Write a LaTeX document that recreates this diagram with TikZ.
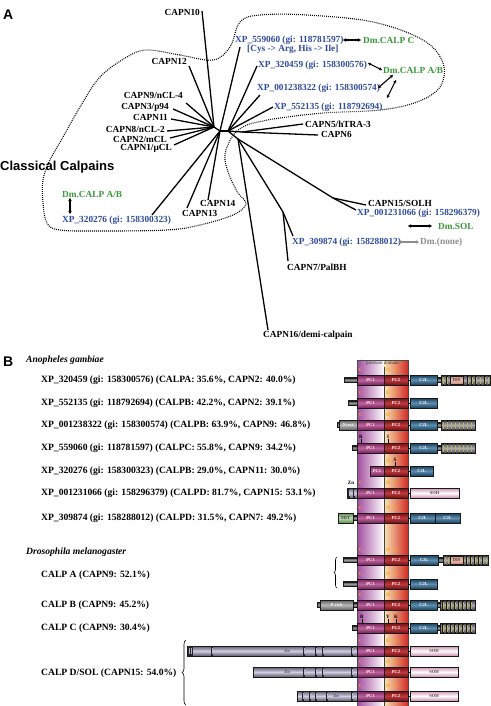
\documentclass[tikz,border=0pt]{standalone}
\usepackage{fontspec}
\setmainfont{Liberation Serif}
\newfontfamily\hsans{Liberation Sans}
\usetikzlibrary{arrows.meta,decorations.pathreplacing}
\definecolor{xblue}{HTML}{2F4B9C}
\definecolor{xgreen}{HTML}{3C9A3C}
\definecolor{xgray}{HTML}{8E8E8E}
\definecolor{pcone}{HTML}{A8307E}
\definecolor{pctwo}{HTML}{B0171C}
\definecolor{ctwol}{HTML}{2A6A98}
\definecolor{sohc}{HTML}{EEA8CA}
\definecolor{lavc}{HTML}{8C86AE}
\definecolor{greyc}{HTML}{8A8A8A}
\definecolor{mitc}{HTML}{8EC47A}
\definecolor{disc}{HTML}{E8A48C}
\definecolor{stripec}{HTML}{B8B660}
\definecolor{tailbody}{HTML}{6A6878}
\definecolor{colpurple}{HTML}{A24C9E}
\definecolor{colred}{HTML}{D32B22}
\definecolor{colyel}{HTML}{F7E3B4}
\definecolor{triadc}{HTML}{F0B020}
% x1,x2,y,half,edge colour,middle colour
\newcommand\dtube[6]{\path[draw=black!90,line width=0.5pt,top color=#5,bottom color=#5,middle color=#6] (#1,#3-#4) rectangle (#2,#3+#4);}
\newcommand\pcs[2]{\dtube{#2}{384}{#1}{5}{pcone!70!black}{pcone!75!white}\node[dlbl] at ({(#2+384)/2},#1) {PC1};\dtube{384}{408}{#1}{5}{pctwo!65!black}{pctwo!85!white}\node[dlbl] at (396,#1) {PC2};\draw[line width=0.8pt] (408,#1)--(410,#1);}
\newcommand\ctl[3]{\dtube{#1}{#2}{#3}{5}{ctwol!60!black}{ctwol!75!white}\node[dlbl] at ({(#1+#2)/2},#3) {C2L};}
\newcommand\sohd[3]{\dtube{#1}{#2}{#3}{5}{sohc!85!black}{white}\node[dlbl,text=black!70] at ({(#1+#2)/2},#3) {SOH};}
\newcommand\dtail[4]{\dtube{#1}{#2}{#3}{5}{tailbody!60!black}{tailbody!55!white}\foreach \s in {#4}{\fill[black!90] (\s-0.9,#3-4.5) rectangle (\s+0.9,#3+4.5);\fill[stripec] (\s-0.45,#3-3.5) rectangle (\s+0.45,#3+3.5);}}
\newcommand\lnk[3]{\dtube{#1}{#2}{#3}{2.2}{black!75}{black!40}}
\newcommand\disb[2]{\dtube{#1}{#1+13}{#2}{4}{disc!85!black}{disc!70!white}\node[dlbl,text=black!75] at (#1+6.5,#2) {DIS};}
\newcommand\triad[1]{\node[tri] at (361,#1-10.5) {C};\node[tri] at (388,#1-10.5) {H};\node[tri] at (395,#1-10.5) {N};}
\newcommand\zband[2]{\fill[black!85] (#1-1.3,#2-5) rectangle (#1+1.3,#2+5);\fill[lavc!60!white] (#1-0.4,#2-3) rectangle (#1+0.4,#2+3);}
\newcommand\mut[3]{\node[mutl] at (#1,#2-11.5) {#3};\draw[line width=0.4pt] (#1,#2-9)--(#1,#2-5);}
\begin{document}
\begin{tikzpicture}[x=1pt,y=-1pt,
  lbl/.style={font=\bfseries\fontsize{9.3}{10}\selectfont,inner sep=0pt},
  blbl/.style={lbl,text=xblue},
  glbl/.style={lbl,text=xgreen},
  rowl/.style={font=\bfseries\fontsize{9.6}{10}\selectfont,inner sep=0pt,anchor=west},
  dlbl/.style={font=\bfseries\fontsize{4.5}{5}\selectfont,inner sep=0pt,text=white!80!pink},
  tri/.style={font=\bfseries\fontsize{5}{5}\selectfont,inner sep=0pt,text=triadc},
  mutl/.style={font=\bfseries\fontsize{5}{5}\selectfont,inner sep=0pt,text=black},
  br/.style={line width=1.3pt,black},
  dbl/.style={line width=1.1pt,{Stealth[length=3.2pt,width=3.6pt]}-{Stealth[length=3.2pt,width=3.6pt]}},
  big/.style={font=\hsans\bfseries\fontsize{14}{14}\selectfont,inner sep=0pt,anchor=west}]
\useasboundingbox (0,0) rectangle (490,706);
\fill[white] (0,0) rectangle (490,706);
% ---------------- Panel A ----------------
\node[big] (A) at (3,15) {A};
\draw[line width=1.1pt,dash pattern=on 0.9pt off 1.1pt] plot[smooth cycle,tension=0.6] coordinates {
 (213,60) (180,55) (147,50) (127,57) (100,77) (80,107) (63,137) (50,160) (43,180) (43,203) (47,223) (60,230) (100,231) (167,230) (200,225) (233,215) (246,204) (238,193) (230,177) (225,160) (227,147) (235,133) (247,125) (263,121) (280,118) (323,113) (380,110) (417,102) (440,87) (443,63) (423,40) (373,22) (307,15) (260,15) (240,22) (230,47)};
\node[font=\hsans\bfseries\fontsize{13}{13}\selectfont,inner sep=0pt,anchor=west] (cc) at (0,167) {Classical Calpains};
% tree
\coordinate (L) at (214,127);
\coordinate (K) at (220,131);
\coordinate (R) at (228,131);
\coordinate (C56) at (242,132);
\coordinate (D) at (238,139);
\coordinate (P) at (283,212);
\coordinate (Q) at (333,198);
\coordinate (l10) at (202,11); \coordinate (l12) at (189,66); \coordinate (l9) at (186,103);
\coordinate (l3) at (173,109); \coordinate (l11) at (171,119); \coordinate (l8) at (167,131);
\coordinate (l2) at (170,138); \coordinate (l1) at (174,145);
\coordinate (l559) at (240,47); \coordinate (l459) at (257,66); \coordinate (l322) at (260,95);
\coordinate (l135) at (273,107); \coordinate (l5) at (303,124); \coordinate (l6) at (318,135);
\coordinate (l276) at (152,215); \coordinate (l13) at (187,208); \coordinate (l14) at (208,200);
\coordinate (l15) at (366,205); \coordinate (l066) at (356,210); \coordinate (l874) at (293,236);
\coordinate (l7) at (288,261); \coordinate (l16) at (268,330);
\foreach \a/\b in {L/l10,L/l12,L/l9,L/l3,L/l11,L/l8,L/l2,L/l1,L/K,K/l559,K/R,R/l459,R/l322,R/l135,R/C56,C56/l5,C56/l6,K/l276,K/l13,K/l14,R/D,D/l16,D/P,P/l874,P/l7,D/Q,Q/l15,Q/l066}
  \draw[br] (\a)--(\b);
\node[lbl,anchor=east] (t10) at (200,12) {CAPN10};
\node[lbl,anchor=east] (t12) at (187,61) {CAPN12};
\node[lbl,anchor=east] (t9) at (183,95) {CAPN9/nCL-4};
\node[lbl,anchor=east] (t3) at (169,107) {CAPN3/p94};
\node[lbl,anchor=east] (t11) at (168,117) {CAPN11};
\node[lbl,anchor=east] (t8) at (165,129) {CAPN8/nCL-2};
\node[lbl,anchor=east] (t2) at (167,139) {CAPN2/mCL};
\node[lbl,anchor=east] (t1) at (172,148) {CAPN1/µCL};
\node[blbl,anchor=west] (x559) at (235,40) {XP\_559060 (gi: 118781597)};
\node[glbl,anchor=west] (dmc) at (363,40) {Dm.CALP C};
\node[blbl,anchor=west] (cys) at (247,49) {[Cys -> Arg, His -> Ile]};
\node[blbl,anchor=west] (x459) at (258,65) {XP\_320459 (gi: 158300576)};
\node[glbl,anchor=west] (dmab) at (383,70) {Dm.CALP A/B};
\node[blbl,anchor=west] (x322) at (257,88) {XP\_001238322 (gi: 158300574)};
\node[blbl,anchor=west] (x135) at (274,107) {XP\_552135 (gi: 118792694)};
\node[lbl,anchor=west] (t5) at (305,124) {CAPN5/hTRA-3};
\node[lbl,anchor=west] (t6) at (321,134) {CAPN6};
\node[lbl,anchor=west] (t14) at (200,203) {CAPN14};
\node[lbl,anchor=west] (t13) at (182,213) {CAPN13};
\node[glbl,anchor=west] (dmab2) at (62,194) {Dm.CALP A/B};
\node[blbl,anchor=west] (x276) at (62,220) {XP\_320276 (gi: 158300323)};
\node[lbl,anchor=west] (t15) at (368,203) {CAPN15/SOLH};
\node[blbl,anchor=west] (x066) at (357,213) {XP\_001231066 (gi: 158296379)};
\node[glbl,anchor=west] (dmsol) at (438,226) {Dm.SOL};
\node[blbl,anchor=west] (x874) at (292,242) {XP\_309874 (gi: 158288012)};
\node[lbl,anchor=west,text=xgray] (dmnone) at (420,242) {Dm.(none)};
\node[lbl,anchor=west] (t7) at (287,267) {CAPN7/PalBH};
\node[lbl,anchor=west] (t16) at (263,335) {CAPN16/demi-calpain};
\coordinate (a1) at (343,40); \coordinate (a2) at (361,40);
\coordinate (a3) at (368,63); \coordinate (a4) at (382,70);
\coordinate (a5) at (378,88); \coordinate (a6) at (393,75);
\coordinate (a7) at (396,80); \coordinate (a8) at (387,98);
\coordinate (a9) at (70,198); \coordinate (a10) at (70,214);
\coordinate (a11) at (408,226); \coordinate (a12) at (432,226);
\coordinate (a13) at (398,242); \coordinate (a14) at (419,242);
\draw[dbl] (a1)--(a2);
\draw[dbl] (a3)--(a4);
\draw[dbl] (a5)--(a6);
\draw[dbl] (a7)--(a8);
\draw[dbl] (a9)--(a10);
\draw[dbl] (a11)--(a12);
\draw[dbl,xgray] (a13)--(a14);
% ---------------- Panel B ----------------
\node[big] (B) at (3,362) {B};
\node[font=\bfseries\itshape\fontsize{9.6}{10}\selectfont,inner sep=0pt,anchor=west] (ag) at (26,360) {Anopheles gambiae};
\node[font=\bfseries\itshape\fontsize{9.6}{10}\selectfont,inner sep=0pt,anchor=west] (dm) at (26,552) {Drosophila melanogaster};
% column
\shade[left color=colpurple,right color=white] (357,360) rectangle (384,706);
\shade[left color=colyel,right color=colred] (384,360) rectangle (408,706);
\draw[line width=0.4pt,black!70] (357,706)--(357,360)--(408,360)--(408,706);
\draw[line width=0.4pt,black!75] (384.5,367)--(384.5,706);
\node[font=\fontsize{5}{5}\selectfont,inner sep=0pt,text=black!80] (pd) at (382.5,363.5) {protease domain};
% row labels
\node[rowl] (r1) at (41,380) {XP\_320459 (gi: 158300576) (CALPA: 35.6\%, CAPN2: 40.0\%)};
\node[rowl] (r2) at (41,403) {XP\_552135 (gi: 118792694) (CALPB: 42.2\%, CAPN2: 39.1\%)};
\node[rowl] (r3) at (41,425) {XP\_001238322 (gi: 158300574) (CALPB: 63.9\%, CAPN9: 46.8\%)};
\node[rowl] (r4) at (41,448) {XP\_559060 (gi: 118781597) (CALPC: 55.8\%, CAPN9: 34.2\%)};
\node[rowl] (r5) at (41,471) {XP\_320276 (gi: 158300323) (CALPB: 29.0\%, CAPN11: 30.0\%)};
\node[rowl] (r6) at (41,493) {XP\_001231066 (gi: 158296379) (CALPD: 81.7\%, CAPN15: 53.1\%)};
\node[rowl] (r7) at (41,518) {XP\_309874 (gi: 158288012) (CALPD: 31.5\%, CAPN7: 49.2\%)};
\node[rowl] (ra) at (41,575) {CALP A (CAPN9: 52.1\%)};
\node[rowl] (rb) at (41,605) {CALP B (CAPN9: 45.2\%)};
\node[rowl] (rc) at (41,628) {CALP C (CAPN9: 30.4\%)};
\node[rowl] (rd) at (41,673) {CALP D/SOL (CAPN15: 54.0\%)};
\draw[line width=0.6pt,decorate,decoration={brace,amplitude=3pt}] (337,588)--(337,557);
\draw[line width=0.6pt,decorate,decoration={brace,amplitude=4pt}] (186,705)--(186,640);
% row 1
\lnk{344}{357}{380}\pcs{380}{357}\triad{380}\ctl{410}{437}{380}\lnk{437}{441}{380}
\dtail{441}{490}{380}{443.5,447,468,472,476,480.5,485,488.5}\disb{450}{380}
% row 2
\lnk{348}{357}{403}\pcs{403}{357}\triad{403}\ctl{410}{437}{403}
% row 3
\dtube{337}{339}{425}{2.5}{black!75}{black!40}\dtube{339}{357}{425}{5}{greyc!70!black}{greyc!60!white}\node[dlbl] at (348,425) {N-ext};
\pcs{425}{357}\triad{425}\ctl{410}{437}{425}\lnk{437}{441}{425}
\dtail{441}{475}{425}{443.5,447.5,451.5,455.5,459.5,463.5,467.5,471.5}
% row 4
\lnk{352}{357}{448}\pcs{448}{357}\mut{361}{448}{R}\mut{388}{448}{I}\node[tri] at (395,437.5) {N};
\ctl{410}{437}{448}\lnk{437}{441}{448}\dtail{441}{475}{448}{443.5,447.5,451.5,455.5,459.5,463.5,467.5,471.5}
% row 5
\pcs{471}{370}\node[tri] at (388,460.5) {H};\mut{395}{471}{S}\ctl{410}{433}{471}
% row 6
\node[mutl] at (351,483) {Zn};
\dtube{347}{357}{493}{5}{lavc!70!black}{lavc!40!white}\zband{349}{493}\zband{354}{493}
\pcs{493}{357}\triad{493}\sohd{410}{459}{493}
% row 7
\dtube{338}{353}{518}{5}{mitc!70!black}{mitc!60!white}\node[dlbl,text=black!75] at (345.5,518) {MIT};\lnk{353}{357}{518}
\pcs{518}{357}\triad{518}\ctl{410}{435}{518}\ctl{435}{460}{518}
% CALP A
\lnk{343}{357}{560}\pcs{560}{357}\triad{560}\ctl{410}{438}{560}\lnk{438}{443}{560}
\dtail{443}{488}{560}{445.5,448.5,467,471,475,479,483,486.5}\disb{450}{560}
\lnk{343}{357}{584}\pcs{584}{357}\triad{584}\ctl{410}{437}{584}
% CALP B
\dtube{317}{320}{605}{2.5}{black!75}{black!40}\dtube{320}{353}{605}{5}{greyc!70!black}{greyc!60!white}\node[dlbl] at (336.5,605) {P-rich};\lnk{353}{357}{605}
\pcs{605}{357}\triad{605}\ctl{410}{437}{605}\lnk{437}{440}{605}
\dtail{440}{475}{605}{443,447,451,455,459,463,467,471}
% CALP C
\lnk{352}{357}{628}\pcs{628}{357}\mut{362}{628}{R}\mut{388}{628}{Y}\mut{396}{628}{K}
\ctl{410}{437}{628}\lnk{437}{440}{628}\dtail{440}{475}{628}{443,447,451,455,459,463,467,471}
% CALP D
\dtube{187}{357}{651}{5}{lavc!65!black}{lavc!40!white}\foreach \z in {189,191.5,212,304,316,323,352}{\zband{\z}{651}}\node[dlbl,text=black!70] at (287,651) {Zn};
\pcs{651}{357}\triad{651}\sohd{410}{458}{651}
\dtube{253}{357}{672}{5}{lavc!65!black}{lavc!40!white}\foreach \z in {304,316,323,352}{\zband{\z}{672}}\node[dlbl,text=black!70] at (287,672) {Zn};
\pcs{672}{357}\triad{672}\sohd{410}{458}{672}
\dtube{297}{357}{696}{5}{lavc!65!black}{lavc!40!white}\foreach \z in {303,310,316,327,352}{\zband{\z}{696}}\node[dlbl,text=black!70] at (336,696) {Zn};
\pcs{696}{357}\triad{696}\sohd{410}{458}{696}
\end{tikzpicture}
\end{document}
